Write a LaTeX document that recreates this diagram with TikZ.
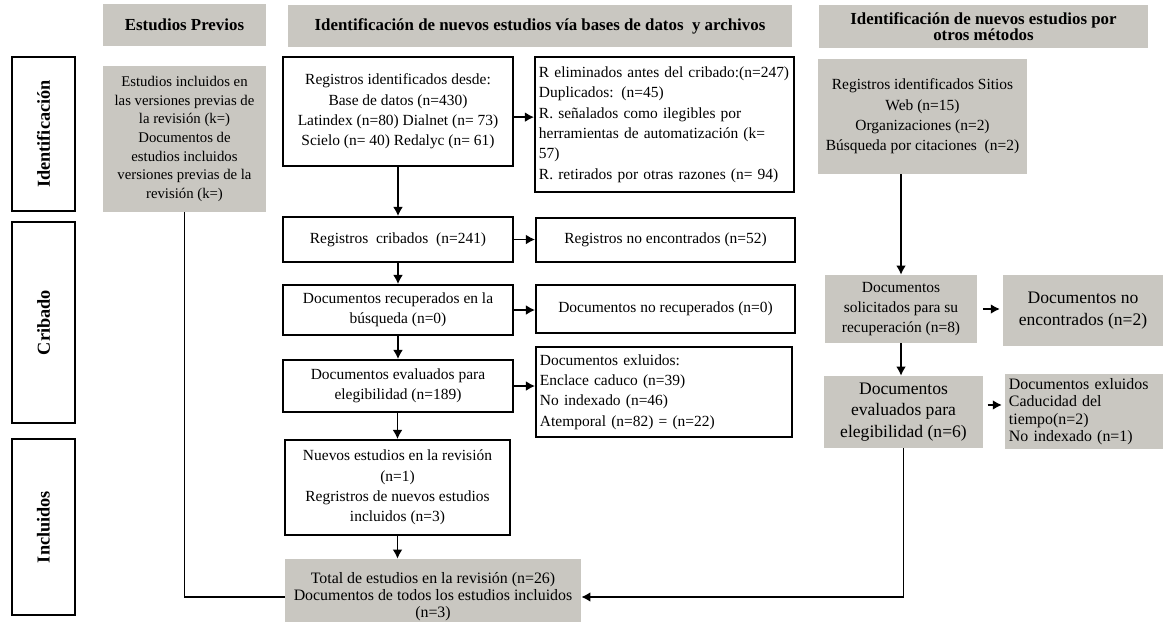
\documentclass[tikz,border=0pt]{standalone}
\usepackage{fontspec}
\setmainfont{Liberation Serif}
\usetikzlibrary{arrows.meta}
\definecolor{mygray}{RGB}{201,199,193}
\newcommand{\fnormal}{\fontsize{11}{14.5}\selectfont}
\newcommand{\fgrande}{\fontsize{12.5}{15.5}\selectfont}

\begin{document}
\begin{tikzpicture}[x=0.025cm, y=-0.025cm,
  whitebox/.style={draw, line width=1.3pt, align=center, inner sep=2pt, font=\fnormal},
  graybox/.style={fill=mygray, align=center, inner sep=2pt, font=\fnormal},
  phase/.style={draw, line width=1.6pt, rotate=90, minimum height=1.575cm,
    font=\bfseries\fontsize{13}{15}\selectfont},
  header/.style={fill=mygray, align=center, minimum height=1.05cm,
    font=\bfseries\fontsize{12}{12.5}\selectfont},
  arr/.style={-{Latex[length=6.5pt,width=7pt]}, line width=1.2pt},
  link/.style={line width=1.2pt}]
  \useasboundingbox (0,0) rectangle (1165,621);

  % encabezados
  \node[header, minimum width=4.075cm] (hprev) at (184.5,25) {Estudios Previos};
  \node[header, minimum width=12.6cm] (hdb) at (540,26)
    {Identificación de nuevos estudios vía bases de datos~~y archivos};
  \node[header, minimum width=8.225cm, minimum height=1.075cm,
    font=\bfseries\fontsize{12}{11}\selectfont] (hotros) at (983.5,26.5)
    {Identificación de nuevos estudios por\\otros métodos};

  % fases
  \node[phase, minimum width=3.85cm] (fid) at (43.5,134) {Identificación};
  \node[phase, minimum width=5.025cm] (fcrib) at (43.5,322.5) {Cribado};
  \node[phase, minimum width=4.4cm] (finc) at (43.5,527) {Incluidos};

  % estudios previos
  \node[graybox, minimum width=4.075cm, minimum height=3.65cm,
    font=\fontsize{10.5}{13.2}\selectfont] (prev) at (184.5,139)
    {Estudios incluidos en\\las versiones previas de\\la revisión (k=)\\Documentos de\\estudios incluidos\\versiones previas de la\\revisión (k=)};

  % bases de datos y archivos
  \node[whitebox, minimum width=5.75cm, minimum height=2.725cm] (reg) at (398,111.5)
    {Registros identificados desde:\\Base de datos (n=430)\\Latindex (n=80) Dialnet (n= 73)\\Scielo (n= 40) Redalyc (n= 61)};
  \node[whitebox, align=left, text width=6.275cm, minimum height=3.375cm, inner sep=0.1cm]
    (elim) at (664.5,124.5)
    {R eliminados antes del cribado:(n=247)\\Duplicados: (n=45)\\R. señalados como ilegibles por\\herramientas de automatización (k=\\57)\\R. retirados por otras razones (n= 94)};
  \node[whitebox, minimum width=5.75cm, minimum height=1.125cm] (crib) at (398,239.5)
    {Registros~~cribados~~(n=241)};
  \node[whitebox, minimum width=6.475cm, minimum height=1.1cm] (noenc) at (665.5,240)
    {Registros no encontrados (n=52)};
  \node[whitebox, minimum width=5.75cm, minimum height=1.25cm] (rec) at (398,310)
    {Documentos recuperados en la\\búsqueda (n=0)};
  \node[whitebox, minimum width=6.475cm, minimum height=1.2cm] (norec) at (665.5,309)
    {Documentos no recuperados (n=0)};
  \node[whitebox, minimum width=5.75cm, minimum height=1.3cm] (eval) at (398,386)
    {Documentos evaluados para\\elegibilidad (n=189)};
  \node[whitebox, align=left, text width=6.2cm, minimum height=2.25cm, inner sep=0.1cm]
    (excl) at (664,392)
    {Documentos exluidos:\\Enclace caduco (n=39)\\No indexado (n=46)\\Atemporal (n=82) = (n=22)};
  \node[whitebox, minimum width=5.625cm, minimum height=2.375cm] (nuevos) at (397.5,487.5)
    {Nuevos estudios en la revisión\\(n=1)\\Regristros de nuevos estudios\\incluidos (n=3)};
  \node[graybox, minimum width=7.4cm, minimum height=1.9cm,
    font=\fontsize{11.3}{12}\selectfont] (total) at (433,597)
    {Total de estudios en la revisión (n=26)\\Documentos de todos los estudios incluidos\\(n=3)};

  % otros métodos
  \node[graybox, minimum width=5.225cm, minimum height=2.875cm] (sitios) at (922.5,116.5)
    {Registros identificados Sitios\\Web (n=15)\\Organizaciones (n=2)\\Búsqueda por citaciones~~(n=2)};
  \node[graybox, minimum width=3.8cm, minimum height=1.7cm] (sol) at (901,309)
    {Documentos\\solicitados para su\\recuperación (n=8)};
  \node[graybox, minimum width=4cm, minimum height=1.775cm, font=\fgrande] (noenc2) at (1083,310.5)
    {Documentos no\\encontrados (n=2)};
  \node[graybox, minimum width=3.975cm, minimum height=1.8cm, inner sep=1pt, font=\fgrande]
    (eval2) at (903.5,412)
    {Documentos\\evaluados para\\elegibilidad (n=6)};
  \node[graybox, align=left, text width=3.75cm, minimum height=1.775cm, inner sep=0.1cm,
    font=\fontsize{11.3}{12.4}\selectfont] (excl2) at (1084,411.5)
    {Documentos exluidos\\Caducidad del\\tiempo(n=2)\\No indexado (n=1)};

  % conectores
  \draw[arr] (reg) -- (crib);
  \draw[arr] (crib) -- (rec);
  \draw[arr] (rec) -- (eval);
  \draw[arr] (eval.south -| nuevos.north) -- (nuevos.north);
  \draw[arr] (nuevos.south) -- (nuevos.south |- total.north);
  \draw[arr] ([yshift=-4pt]reg.east) -- ([yshift=-4pt]reg.east -| elim.west);
  \draw[arr] (crib.east) -- (crib.east -| noenc.west);
  \draw[arr] (rec.east) -- (rec.east -| norec.west);
  \draw[arr] (eval.east) -- (eval.east -| excl.west);
  \draw[arr] (sitios.south -| sol.north) -- (sol.north);
  \draw[arr, shorten <=4pt, shorten >=2pt] (sol.east) -- (sol.east -| noenc2.west);
  \draw[arr] (sol.south) -- (sol.south |- eval2.north);
  \draw[arr, shorten <=3pt, shorten >=2pt] ([yshift=5pt]eval2.east) -- ([yshift=5pt]eval2.east -| excl2.west);
  \draw[arr] (eval2.south) |- (total.east);
  \draw[link] (prev.south) |- (total.west);
\end{tikzpicture}
\end{document}
